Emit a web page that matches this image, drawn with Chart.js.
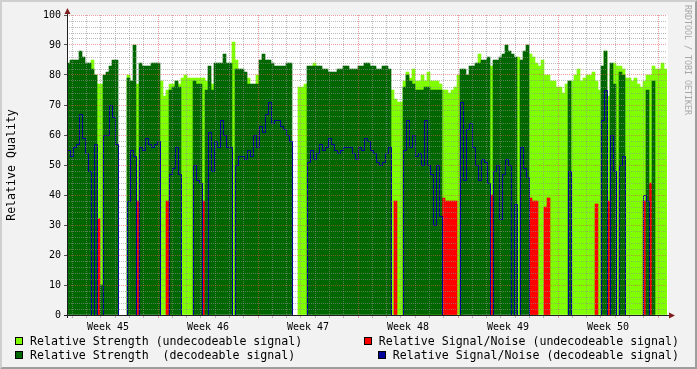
<!DOCTYPE html>
<html><head><meta charset="utf-8">
<script src="https://cdn.jsdelivr.net/npm/chart.js@4.4.1/dist/chart.umd.min.js"></script>
<style>html,body{margin:0;padding:0;background:#f2f2f2;overflow:hidden}canvas{display:block}</style>
</head><body>
<canvas id="c" width="697" height="369"></canvas>
<script>
const _ = null;
// 200 time columns over 6 weeks (42 days)
const DAYS = 42;
const weekNumbers = [45, 46, 47, 48, 49, 50];
const weekLabels = weekNumbers.map(n => 'Week ' + n);
const yTickLabels = [0, 10, 20, 30, 40, 50, 60, 70, 80, 90, 100];

// Relative Strength (undecodeable signal)
const strengthUndec = [
 _,_,_,_,_,_,_,_,85,80,
 77,77,_,_,_,_,_,_,_,_,
 80,_,_,77,_,_,_,_,_,_,
 _,78,73,75,77,77,78,77,79,80,
 79,79,79,79,79,79,78,79,77,_,
 _,_,_,_,_,91,85,_,_,_,
 79,_,_,80,_,_,_,_,_,_,
 _,_,_,_,_,_,_,76,76,77,
 _,_,84,_,_,_,_,_,_,_,
 _,_,_,_,_,_,_,_,_,_,
 _,_,_,_,_,_,_,_,75,72,
 71,71,78,81,79,82,78,78,80,78,
 81,78,78,78,77,75,75,74,75,76,
 80,78,_,_,_,_,_,87,_,_,
 _,83,_,_,_,_,_,_,_,_,
 86,_,_,_,87,86,84,83,85,80,
 80,78,78,76,76,74,77,78,78,80,
 82,78,79,80,80,81,78,75,80,88,
 73,82,84,83,83,82,79,79,78,79,
 77,76,78,80,80,83,82,82,84,82
];
// Relative Strength (decodeable signal)
const strengthDec = [
 84,85,85,85,88,86,84,84,82,80,
 _,10,80,81,83,85,85,_,_,_,
 79,78,90,_,84,83,83,83,84,84,
 84,_,_,_,75,76,78,76,_,_,
 _,_,78,77,77,_,75,83,75,84,
 84,84,87,84,84,_,82,82,82,81,
 77,77,77,77,85,87,85,85,84,83,
 83,83,83,84,84,_,_,_,_,_,
 83,83,83,83,83,82,82,81,81,81,
 82,82,83,83,82,82,82,83,83,84,
 84,83,83,82,82,83,83,82,_,_,
 _,_,76,80,78,77,75,75,75,76,
 76,75,75,75,75,_,_,_,_,_,
 _,82,82,80,83,83,84,84,85,85,
 86,_,85,85,86,87,90,88,87,86,
 _,85,88,90,_,_,_,_,_,_,
 _,_,_,_,_,_,_,78,_,_,
 _,_,_,_,_,_,_,_,83,88,
 _,84,77,_,81,80,_,_,_,_,
 _,_,_,75,_,78,_,_,_,_
];
// Relative Signal/Noise (undecodeable signal)
const snrUndec = [
 _,_,_,_,_,_,_,_,_,_,
 32,_,_,_,_,_,_,_,_,_,
 _,_,_,38,_,_,_,_,_,_,
 _,_,_,38,_,_,_,_,_,_,
 _,_,_,_,_,38,_,_,_,_,
 _,_,_,_,_,_,_,_,_,_,
 _,_,_,_,_,_,_,_,_,_,
 _,_,_,_,_,_,_,_,_,_,
 _,_,_,_,_,_,_,_,_,_,
 _,_,_,_,_,_,_,_,_,_,
 _,_,_,_,_,_,_,_,_,38,
 _,_,_,_,_,_,_,_,_,_,
 _,_,_,_,_,39,38,38,38,38,
 _,_,_,_,_,_,_,_,_,_,
 _,40,_,_,_,_,_,_,_,_,
 _,_,_,_,39,38,38,_,_,36,
 39,_,_,_,_,_,_,_,_,_,
 _,_,_,_,_,_,37,_,_,_,
 38,_,_,_,_,_,_,_,_,_,
 _,_,38,_,44,_,_,_,_,_
];
// Relative Signal/Noise (decodeable signal)
const snrDec = [
 55,53,56,57,67,59,54,48,0,57,
 0,0,60,60,70,66,57,0,0,0,
 38,55,53,0,56,55,59,57,56,57,
 58,0,0,0,47,49,56,47,0,0,
 0,0,50,45,44,0,0,61,48,58,
 56,65,60,56,56,0,50,53,53,52,
 55,53,60,56,63,61,67,71,64,65,
 65,63,62,60,58,0,0,0,0,0,
 51,55,52,54,57,55,56,59,57,55,
 54,55,56,56,56,54,52,56,55,59,
 58,55,54,51,50,51,54,56,0,0,
 0,0,55,65,56,60,53,54,50,65,
 50,47,30,50,33,0,0,0,0,0,
 0,71,45,62,64,56,50,45,52,51,
 44,0,48,50,32,47,52,50,0,37,
 0,56,49,46,0,0,0,0,0,0,
 0,0,0,0,0,0,0,48,0,0,
 0,0,0,0,0,0,0,0,65,75,
 0,60,48,0,50,53,0,0,0,0,
 0,0,40,38,0,0,0,0,0,0
];

const N = strengthDec.length;
const COL = DAYS / N;
const FIRST_WEEK_LINE = 6.37;           // day of first week boundary
const dayLines = [];
for (let k = 0; k < DAYS; k++) dayLines.push(FIRST_WEEK_LINE - 6 + k);
const weekLabelDays = weekNumbers.map((n, w) => FIRST_WEEK_LINE - 3.5 + 7 * w);

const MINOR = 'rgba(143,143,143,0.6)';
const MAJOR = 'rgba(222,79,79,0.55)';
const CLEAR = 'rgba(0,0,0,0)';
const isLabelDay = v => weekLabelDays.some(d => Math.abs(d - v) < 1e-9);
const isWeekLine = v => { const r = (((v - FIRST_WEEK_LINE) % 7) + 7) % 7; return r < 1e-6 || 7 - r < 1e-6; };

const toBars = arr => arr.map((v, i) => ({x: (i + 0.5) * COL, y: v}));
const toSteps = arr => arr.map((v, i) => ({x: i * COL, y: v})).concat([{x: N * COL, y: arr[N - 1]}]);

const legendItems = [
  {text: 'Relative Strength (undecodeable signal)', color: '#80ff00', col: 0, row: 0},
  {text: 'Relative Signal/Noise (undecodeable signal)', color: '#ff0000', col: 1, row: 0},
  {text: 'Relative Strength  (decodeable signal)', color: '#006600', col: 0, row: 1},
  {text: 'Relative Signal/Noise (decodeable signal)', color: '#000099', col: 1, row: 1}
];

const MONO = '"DejaVu Sans Mono", monospace';
Chart.defaults.font.family = MONO;

const frame = {
  id: 'frame',
  beforeDraw(chart) {
    const c = chart.ctx, a = chart.chartArea;
    c.save();
    c.fillStyle = '#f2f2f2'; c.fillRect(0, 0, 697, 369);
    c.fillStyle = '#ffffff'; c.fillRect(a.left, a.top, a.right - a.left + 1, a.bottom - a.top);
    c.restore();
  },
  beforeDatasetDraw(chart, args) {
    if (args.meta.type === 'line') { chart.ctx.save(); chart.ctx.translate(0.5, 0.5); }
  },
  afterDatasetDraw(chart, args) {
    if (args.meta.type === 'line') { chart.ctx.restore(); }
  },
  afterDraw(chart) {
    const c = chart.ctx, a = chart.chartArea;
    c.save();
    // axes
    c.strokeStyle = '#1f1f1f'; c.lineWidth = 1;
    c.beginPath(); c.moveTo(a.left - 3, a.bottom + 0.5); c.lineTo(a.right + 3, a.bottom + 0.5); c.stroke();
    c.beginPath(); c.moveTo(a.left + 0.5, a.bottom + 3); c.lineTo(a.left + 0.5, a.top - 3); c.stroke();
    c.fillStyle = '#801f1f';
    c.beginPath(); c.moveTo(a.left - 2.5, a.top - 1); c.lineTo(a.left + 0.5, a.top - 7); c.lineTo(a.left + 3.5, a.top - 1); c.closePath(); c.fill();
    c.beginPath(); c.moveTo(a.right + 2, a.bottom - 2.5); c.lineTo(a.right + 8, a.bottom + 0.5); c.lineTo(a.right + 2, a.bottom + 3.5); c.closePath(); c.fill();
    // y title
    c.fillStyle = '#000';
    c.font = '11.6px ' + MONO;
    c.textAlign = 'center'; c.textBaseline = 'middle';
    c.save(); c.translate(12, (a.top + a.bottom) / 2); c.rotate(-Math.PI / 2); c.fillText('Relative Quality', 0, 0); c.restore();
    // watermark
    c.save(); c.fillStyle = '#a8a8a8'; c.font = '8.3px ' + MONO; c.textAlign = 'left'; c.textBaseline = 'middle';
    c.translate(687.5, 5); c.rotate(Math.PI / 2); c.fillText('RRDTOOL / TOBI OETIKER', 0, 0); c.restore();
    // legend
    c.font = '11.6px ' + MONO; c.textBaseline = 'alphabetic'; c.textAlign = 'left';
    const rowBase = [345, 358.5];
    legendItems.forEach(it => {
      const w = c.measureText(it.text).width;
      const tx = it.col === 0 ? 30 : 679 - w;
      const bx = Math.round(tx - 15), by = Math.round(rowBase[it.row] - 8);
      c.fillStyle = '#000'; c.fillRect(bx, by, 8, 8);
      c.fillStyle = it.color; c.fillRect(bx + 1, by + 1, 6, 6);
      c.fillStyle = '#000'; c.fillText(it.text, tx, rowBase[it.row]);
    });
    // 3d border
    c.fillStyle = '#cfcfcf';
    c.beginPath(); c.moveTo(0, 0); c.lineTo(697, 0); c.lineTo(695, 2); c.lineTo(2, 2); c.lineTo(2, 367); c.lineTo(0, 369); c.closePath(); c.fill();
    c.fillStyle = '#9e9e9e';
    c.beginPath(); c.moveTo(697, 0); c.lineTo(697, 369); c.lineTo(0, 369); c.lineTo(2, 367); c.lineTo(695, 367); c.lineTo(695, 2); c.closePath(); c.fill();
    c.restore();
  }
};

const barOpts = {grouped: false, barPercentage: 1, categoryPercentage: 1, borderWidth: 0};
const xColor = ctx => { const v = ctx.tick ? ctx.tick.value : 0; return isLabelDay(v) ? CLEAR : (isWeekLine(v) ? MAJOR : MINOR); };
const yColor = ctx => { const v = ctx.tick ? ctx.tick.value : 0; return v % 10 === 0 ? MAJOR : MINOR; };

new Chart(document.getElementById('c'), {
  type: 'bar',
  data: {
    datasets: [
      Object.assign({label: legendItems[0].text, data: toBars(strengthUndec), backgroundColor: '#80ff00', order: 4}, barOpts),
      Object.assign({label: legendItems[1].text, data: toBars(snrUndec), backgroundColor: '#ff0000', order: 3}, barOpts),
      Object.assign({label: legendItems[2].text, data: toBars(strengthDec), backgroundColor: '#006600', order: 2}, barOpts),
      {type: 'line', label: legendItems[3].text, data: toSteps(snrDec), borderColor: '#000099', borderWidth: 1,
       pointRadius: 0, stepped: true, fill: false, tension: 0, order: 1}
    ]
  },
  options: {
    responsive: false, animation: false, devicePixelRatio: 1,
    layout: {padding: {left: 0, right: 30, top: 15, bottom: 0}},
    plugins: {legend: {display: false}, tooltip: {enabled: false}},
    scales: {
      x: {
        type: 'linear', min: 0, max: DAYS, offset: false,
        grid: {offset: false, z: 1, lineWidth: 1, tickWidth: 1, tickLength: 3, color: xColor, tickColor: xColor},
        border: {display: false, dash: [1, 1]},
        ticks: {autoSkip: false, maxRotation: 0, minRotation: 0, padding: 3, color: '#000', font: {family: MONO, size: 10},
          callback: v => { const w = weekLabelDays.findIndex(d => Math.abs(d - v) < 1e-9); return w >= 0 ? weekLabels[w] : ''; }},
        afterBuildTicks: s => { s.ticks = dayLines.concat(weekLabelDays).sort((p, q) => p - q).map(v => ({value: v})); },
        afterFit: s => { s.height = 54; }
      },
      y: {
        type: 'linear', min: 0, max: 100,
        grid: {z: 1, lineWidth: 1, tickWidth: 1, tickLength: 3, color: yColor,
          tickColor: ctx => { const v = ctx.tick ? ctx.tick.value : 0; return v % 10 === 0 ? '#555' : CLEAR; }},
        border: {display: false, dash: [1, 1]},
        ticks: {autoSkip: false, padding: 3, color: '#000', font: {family: MONO, size: 10},
          callback: v => yTickLabels.includes(v) ? String(v) : ''},
        afterBuildTicks: s => { const t = []; for (let v = 0; v <= 100; v += 2) t.push({value: v}); s.ticks = t; },
        afterFit: s => { s.width = 67; }
      }
    }
  },
  plugins: [frame]
});
</script>
</body></html>
